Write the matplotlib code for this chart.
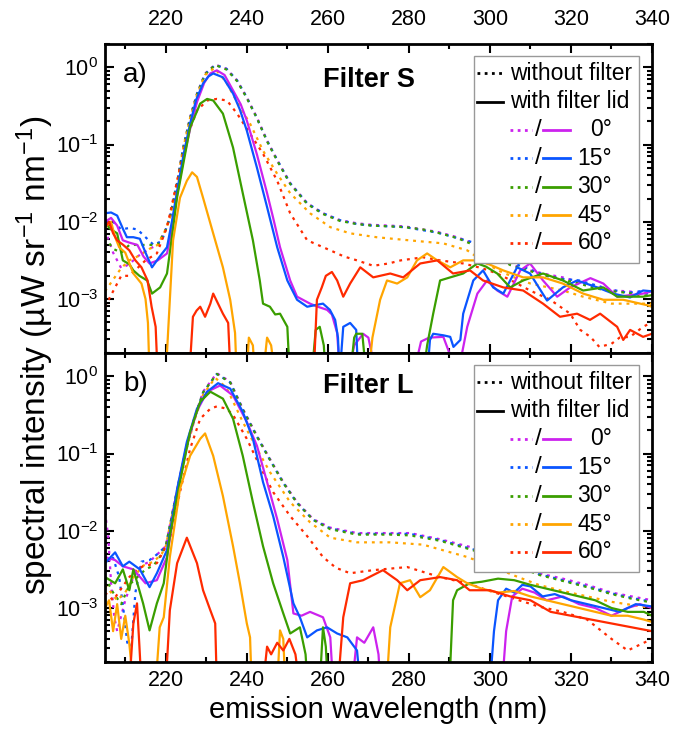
import matplotlib
matplotlib.use('Agg')
import matplotlib.pyplot as plt
import numpy as np
from matplotlib.lines import Line2D
from matplotlib.patches import Rectangle
from matplotlib.ticker import LogLocator, MultipleLocator, NullFormatter

plt.rcParams['font.family'] = ['Liberation Sans', 'DejaVu Sans']
plt.rcParams['mathtext.fontset'] = 'custom'
plt.rcParams['mathtext.rm'] = 'Liberation Sans'
plt.rcParams['mathtext.it'] = 'Liberation Sans:italic'
plt.rcParams['mathtext.bf'] = 'Liberation Sans:bold'

angles = ['0°', '15°', '30°', '45°', '60°']
colors = ['#CC22EE', '#0A55FF', '#3A9E00', '#FFA500', '#FF2A00']

# ---------------- Panel a (Filter S): log10 of spectral intensity ----------------
# without filter (dotted)
a_dot_wl_0 = [205, 207, 209, 211, 213, 216, 218, 220, 221, 222.8, 224.3, 226, 227.7, 229.7, 232.2, 235, 237.6, 240, 242.5, 245, 247.5, 250.7, 254.9, 258.8, 263, 267.2, 271, 275.4, 279, 283.5, 287, 291.9, 296, 300, 305, 310, 314, 318, 322, 326, 330, 334, 337, 340]
a_dot_lg_0 = [-2.1, -2.4, -2.6, -2.55, -2.45, -2.35, -2.3, -2.1, -1.95, -1.5, -1.04, -0.65, -0.34, -0.08, 0.035, -0.02, -0.17, -0.39, -0.65, -0.95, -1.2, -1.5, -1.76, -1.89, -1.98, -2.02, -2.04, -2.05, -2.06, -2.1, -2.13, -2.2, -2.28, -2.38, -2.55, -2.63, -2.68, -2.72, -2.78, -2.84, -2.89, -2.9, -2.92, -2.93]
a_dot_wl_15 = [205, 207, 209, 211, 213, 215, 217, 219, 220, 221, 222.8, 224.3, 226, 227.7, 229.7, 232.2, 235, 237.6, 240, 242.5, 245, 247.5, 250.7, 254.9, 258.8, 263, 267.2, 271, 275.4, 279, 283.5, 287, 291.9, 296, 300, 305, 310, 314, 318, 322, 326, 330, 334, 337, 340]
a_dot_lg_15 = [-2.0, -2.0, -2.1, -2.08, -2.1, -2.2, -2.3, -2.25, -2.1, -1.95, -1.5, -1.04, -0.66, -0.35, -0.09, 0.03, -0.02, -0.17, -0.39, -0.66, -0.95, -1.2, -1.5, -1.76, -1.89, -1.98, -2.03, -2.05, -2.06, -2.07, -2.11, -2.14, -2.21, -2.27, -2.36, -2.52, -2.62, -2.7, -2.74, -2.76, -2.82, -2.88, -2.92, -2.9, -2.95]
a_dot_wl_30 = [205, 207, 209, 211, 213, 216, 218, 220, 221, 222.8, 224.3, 226, 227.7, 229.7, 232.2, 235, 237.6, 240, 242.5, 245, 247.5, 250.7, 254.9, 258.8, 263, 267.2, 271, 275.4, 279, 283.5, 287, 291.9, 296, 300, 305, 310, 314, 318, 322, 326, 330, 334, 337, 340]
a_dot_lg_30 = [-2.2, -2.35, -2.4, -2.3, -2.3, -2.3, -2.3, -2.1, -1.95, -1.5, -1.05, -0.66, -0.35, -0.09, 0.03, -0.03, -0.18, -0.4, -0.66, -0.96, -1.21, -1.51, -1.77, -1.9, -1.99, -2.03, -2.05, -2.06, -2.07, -2.1, -2.14, -2.21, -2.3, -2.4, -2.56, -2.64, -2.7, -2.75, -2.8, -2.86, -2.9, -2.92, -2.95, -2.96]
a_dot_wl_45 = [205, 207, 209, 211, 213, 216, 218, 220, 221, 222.8, 224.3, 226, 227.7, 229.7, 232, 235, 237.6, 240.8, 244, 247.5, 250.7, 255.6, 260.6, 265.5, 272, 280, 288.5, 294.4, 298, 302, 306, 310, 318, 323, 330, 340]
a_dot_lg_45 = [-2.9, -2.75, -2.6, -2.5, -2.45, -2.35, -2.3, -2.1, -1.95, -1.5, -1.05, -0.66, -0.36, -0.1, -0.01, -0.2, -0.45, -0.73, -1.08, -1.38, -1.63, -1.89, -2.07, -2.15, -2.2, -2.24, -2.28, -2.37, -2.5, -2.63, -2.72, -2.8, -2.89, -2.97, -3.06, -3.06]
a_dot_wl_60 = [205, 207, 209, 211, 213, 215, 217.8, 220.3, 222.8, 225.2, 227.7, 230.2, 232.6, 235.1, 237.6, 240.8, 244, 247.5, 250.7, 254.9, 260.6, 264, 267.2, 271.2, 275, 278, 283.5, 287.7, 293.4, 298, 301.8, 306, 309.9, 314.9, 319.8, 322.3, 324.8, 327, 330, 332, 334.6, 337.8, 340]
a_dot_lg_60 = [-3.1, -2.9, -2.7, -2.7, -2.6, -2.5, -2.41, -2.07, -1.47, -0.91, -0.56, -0.43, -0.41, -0.43, -0.6, -0.86, -1.12, -1.47, -1.89, -2.24, -2.37, -2.45, -2.5, -2.57, -2.54, -2.5, -2.46, -2.5, -2.54, -2.6, -2.67, -2.78, -2.89, -3.01, -3.19, -3.4, -3.49, -3.62, -3.58, -3.5, -3.49, -3.36, -3.3]

# with filter lid (solid)
a_sol_wl_0 = [205, 206.5, 208, 209.4, 211, 213, 214.5, 216, 218, 220.3, 221.5, 222.8, 224.5, 226, 227.7, 229.5, 231, 232.6, 234.5, 236.6, 238.5, 240, 242.5, 245, 246.5, 248.2, 250.7, 252.4, 255.6, 257.5, 259.8, 261, 262.3, 263, 265, 266.5, 268.7, 270, 272, 281, 283, 285, 288.5, 290, 292, 293.5, 294.4, 296.9, 299.3, 301.8, 304.3, 307.5, 309.9, 313.1, 316.6, 319.8, 324.8, 328, 331.4, 334.6, 337.8, 340]
a_sol_lg_0 = [-2.0, -1.95, -2.05, -2.24, -2.27, -2.3, -2.45, -2.54, -2.5, -2.41, -2.1, -1.65, -1.15, -0.8, -0.45, -0.2, -0.08, -0.04, -0.1, -0.3, -0.48, -0.69, -1.13, -1.63, -1.95, -2.33, -2.76, -2.97, -3.06, -3.1, -3.14, -3.2, -3.44, -4, -4, -3.6, -3.45, -3.5, -4, -4, -3.55, -3.5, -3.49, -3.7, -4, -3.6, -3.36, -2.93, -2.76, -2.89, -2.97, -2.63, -2.54, -2.76, -2.97, -2.85, -2.73, -2.8, -2.97, -2.95, -2.93, -2.9]
a_sol_wl_15 = [205, 206.5, 208, 209.5, 210.4, 212, 213.6, 215, 216.6, 218.5, 220.3, 221.5, 222.8, 224.5, 226, 227.5, 229.2, 230.5, 231.7, 234.1, 236.6, 238.3, 240, 242.5, 245, 247.5, 250, 252.4, 254.9, 256.8, 258.8, 260.5, 261.8, 262.5, 262.9, 263.8, 265.5, 267, 267.5, 284.5, 285.2, 286, 288.5, 290.2, 291, 292.7, 293.4, 295.9, 298.3, 300.8, 303.3, 306.7, 309.9, 314.1, 318, 321.5, 326.5, 330.4, 334.6, 337.8, 340]
a_sol_lg_15 = [-1.89, -1.88, -1.92, -2.1, -2.2, -2.2, -2.22, -2.4, -2.59, -2.45, -2.33, -2.0, -1.6, -1.1, -0.73, -0.42, -0.21, -0.12, -0.08, -0.13, -0.34, -0.55, -0.82, -1.3, -1.81, -2.33, -2.76, -3.01, -3.1, -3.08, -3.06, -3.14, -3.27, -3.5, -4, -3.36, -3.31, -3.4, -4, -4, -3.53, -3.45, -3.47, -3.49, -3.62, -3.53, -3.19, -2.76, -2.63, -2.85, -2.93, -2.59, -2.67, -3.02, -2.85, -2.76, -2.85, -2.93, -2.98, -2.89, -2.9]
a_sol_wl_30 = [205, 206.5, 208, 209.4, 211, 212, 213.5, 215.4, 216.6, 218.6, 220.3, 221.5, 222.8, 224.5, 226, 228.5, 230.2, 231.7, 234.1, 236.6, 239, 241.5, 243.2, 244, 245.7, 247, 248.2, 250, 250.6, 256, 257, 258, 259, 259.5, 265.5, 266.5, 267, 268.5, 269.5, 283.5, 284.5, 286, 287.7, 290.2, 293.4, 296.9, 299, 301.8, 305, 308.2, 313.1, 318, 323, 328, 331.4, 337.8, 340]
a_sol_lg_30 = [-2.02, -2.1, -2.15, -2.5, -2.55, -2.63, -2.7, -2.76, -2.93, -2.85, -2.67, -2.2, -1.68, -1.2, -0.78, -0.47, -0.41, -0.43, -0.6, -1.04, -1.63, -2.24, -2.76, -3.06, -3.1, -3.2, -3.19, -3.36, -4, -4, -3.4, -3.36, -3.6, -4, -4, -3.5, -3.45, -3.45, -4, -4, -3.6, -3.19, -2.76, -2.72, -2.67, -2.54, -2.58, -2.67, -2.85, -2.76, -2.67, -2.76, -2.89, -2.85, -2.97, -2.97, -2.95]
a_sol_wl_45 = [205, 206.5, 207.5, 208.5, 210, 212, 214, 215, 215.6, 216, 220, 220.6, 221.8, 223.5, 225.2, 226.5, 227.7, 229.2, 231.7, 234.1, 235.9, 237.1, 237.5, 240, 240.5, 241.5, 242, 244, 245, 246, 247, 270, 271, 272.9, 274.6, 277.1, 279.6, 282, 284.5, 287, 290.2, 293.4, 296, 299.3, 303.3, 308.2, 313.1, 318, 323, 328, 332.9, 338.8, 340]
a_sol_lg_45 = [-2.07, -2.0, -2.2, -2.33, -2.4, -2.67, -2.8, -3.0, -3.31, -4, -4, -3.4, -2.24, -1.69, -1.47, -1.36, -1.42, -1.69, -2.15, -2.59, -3.01, -3.44, -4, -4, -3.5, -3.6, -4, -4, -3.5, -3.6, -4, -4, -3.5, -3.01, -2.76, -2.8, -2.72, -2.5, -2.41, -2.5, -2.59, -2.5, -2.5, -2.54, -2.63, -2.72, -2.72, -2.8, -2.93, -3.01, -3.01, -3.08, -3.1]
a_sol_wl_60 = [205, 206, 207, 208, 209.5, 211, 212.5, 214, 215.5, 216.5, 217.5, 218, 225.8, 226.7, 227.6, 228.5, 229.7, 231, 231.7, 232.9, 234.1, 235.4, 236, 256.5, 257.3, 258.5, 259.5, 261, 262.3, 263.8, 265.5, 268, 271.2, 275.4, 278.6, 282.8, 287, 290.9, 295.1, 298.3, 303.3, 308.2, 313.1, 317.3, 321.5, 324.7, 327.2, 331.4, 332.9, 334.6, 337.8, 340]
a_sol_lg_60 = [-2.07, -2.0, -2.15, -2.24, -2.3, -2.37, -2.5, -2.59, -2.76, -3.1, -3.36, -4, -4, -3.23, -3.15, -3.1, -3.23, -3.06, -2.93, -3.06, -3.19, -3.31, -4, -4, -3.01, -2.85, -2.7, -2.65, -2.76, -2.97, -2.8, -2.59, -2.72, -2.67, -2.72, -2.54, -2.5, -2.67, -2.63, -2.76, -2.85, -2.89, -3.06, -3.23, -3.19, -3.27, -3.19, -3.36, -3.53, -3.4, -3.49, -3.45]

# ---------------- Panel b (Filter L) ----------------
b_dot_wl_0 = [205, 205.8, 206.5, 207.3, 208, 209, 210, 212, 214, 216, 218, 220, 221.8, 223.5, 225.2, 227, 229.2, 232.6, 235.9, 239, 242.5, 245.7, 249, 252.4, 256.4, 260.6, 267.2, 275.4, 280.3, 287.7, 294.4, 300, 306, 312, 318, 324, 330, 335, 340]
b_dot_lg_0 = [-1.76, -2.07, -2.68, -3.12, -3.3, -3.1, -2.9, -2.6, -2.45, -2.4, -2.3, -2.2, -1.72, -1.29, -0.9, -0.55, -0.2, 0.04, -0.07, -0.42, -0.77, -1.07, -1.37, -1.63, -1.85, -1.96, -2.03, -2.03, -2.03, -2.11, -2.2, -2.28, -2.4, -2.55, -2.62, -2.7, -2.8, -2.85, -2.9]
b_dot_wl_15 = [205, 207, 208.5, 209.5, 210.5, 211.5, 212.5, 214, 216, 218, 220, 221.8, 223.5, 225.2, 227, 229.2, 232.6, 235.9, 239, 242.5, 245.7, 249, 252.4, 256.4, 260.6, 267.2, 275.4, 280.3, 287.7, 294.4, 300, 306, 312, 318, 324, 330, 335, 340]
b_dot_lg_15 = [-2.4, -2.35, -2.6, -3.0, -3.45, -3.5, -2.8, -2.4, -2.38, -2.3, -2.2, -1.73, -1.3, -0.9, -0.56, -0.21, 0.03, -0.08, -0.43, -0.78, -1.08, -1.38, -1.64, -1.86, -1.97, -2.04, -2.04, -2.04, -2.12, -2.22, -2.3, -2.42, -2.56, -2.64, -2.72, -2.81, -2.87, -2.92]
b_dot_wl_30 = [205, 207, 209, 211, 213, 215, 217, 219, 220, 221.8, 223.5, 225.2, 227, 229.2, 232.6, 235.9, 239, 242.5, 245.7, 249, 252.4, 256.4, 260.6, 267.2, 275.4, 280.3, 287.7, 294.4, 300, 306, 312, 318, 324, 330, 335, 340]
b_dot_lg_30 = [-2.6, -2.8, -2.95, -2.7, -2.6, -2.5, -2.45, -2.3, -2.2, -1.73, -1.3, -0.91, -0.56, -0.21, 0.03, -0.08, -0.43, -0.78, -1.08, -1.38, -1.64, -1.86, -1.98, -2.05, -2.05, -2.06, -2.13, -2.23, -2.32, -2.44, -2.57, -2.65, -2.73, -2.82, -2.88, -2.93]
b_dot_wl_45 = [205, 206.5, 208, 210, 212, 214.5, 217, 219, 220, 221.8, 223.5, 225.2, 227, 229.2, 232.2, 235, 239, 242.5, 245.7, 250.7, 255.6, 260.6, 267.2, 275.4, 283.5, 294.4, 300, 306, 312, 318, 324, 330, 335, 340]
b_dot_lg_45 = [-2.7, -2.8, -2.9, -2.8, -2.6, -2.45, -2.4, -2.3, -2.2, -1.74, -1.31, -0.93, -0.58, -0.24, -0.02, -0.15, -0.59, -0.94, -1.24, -1.63, -1.89, -2.09, -2.15, -2.15, -2.18, -2.34, -2.45, -2.58, -2.7, -2.78, -2.85, -2.92, -2.96, -3.0]
b_dot_wl_60 = [205, 207, 209, 211, 213, 214.4, 217.8, 221, 223.5, 226, 228.5, 231, 232.6, 235, 236.6, 240, 243.2, 246.5, 250.7, 254.9, 258.8, 262, 265.5, 271.2, 279.6, 287.7, 294.4, 300, 306, 312, 318, 324, 330, 334, 338, 340]
b_dot_lg_60 = [-2.8, -2.9, -2.75, -2.6, -2.5, -2.46, -2.42, -2.11, -1.5, -0.94, -0.55, -0.42, -0.39, -0.42, -0.5, -0.81, -1.16, -1.5, -1.81, -2.07, -2.34, -2.48, -2.55, -2.51, -2.47, -2.6, -2.68, -2.78, -2.88, -2.98, -3.05, -3.15, -3.4, -3.55, -3.45, -3.4]

b_sol_wl_0 = [205, 207.5, 209.4, 212, 215, 217.8, 220.3, 222.8, 225.2, 227.7, 230.2, 233.4, 236.6, 240, 242.5, 245, 247.5, 250, 251.5, 253.5, 255.6, 258.8, 260.6, 261.3, 266, 267.2, 269, 271.2, 272.5, 273, 303, 304, 305.5, 308, 311, 314, 318, 322, 326, 330, 334, 337, 340]
b_sol_lg_0 = [-2.34, -2.38, -2.46, -2.5, -2.68, -2.64, -2.34, -1.5, -0.88, -0.45, -0.2, -0.12, -0.25, -0.59, -0.9, -1.37, -1.85, -2.38, -3.07, -3.1, -3.05, -3.12, -3.38, -4, -4, -3.38, -3.45, -3.25, -3.6, -4, -4, -3.3, -2.85, -2.75, -2.8, -2.9, -2.85, -2.95, -3.0, -3.1, -3.0, -2.95, -3.0]
b_sol_wl_15 = [205, 207.5, 209.4, 211, 213.6, 216, 217.8, 220.3, 222.8, 225.2, 227.7, 230.2, 232.9, 235.9, 239, 241.5, 244, 246.5, 249, 251.5, 253.1, 254.9, 257.3, 259.8, 262.3, 264.8, 267.2, 268, 300, 301, 302, 304, 306, 308, 310, 313, 316, 320, 324, 328, 332, 336, 340]
b_sol_lg_15 = [-2.42, -2.28, -2.46, -2.4, -2.5, -2.73, -2.55, -2.25, -1.46, -0.85, -0.42, -0.2, -0.09, -0.16, -0.46, -0.81, -1.37, -1.81, -2.34, -2.94, -3.12, -3.38, -3.29, -3.25, -3.33, -3.38, -3.55, -4, -4, -3.3, -2.9, -2.75, -2.8, -2.7, -2.72, -2.85, -2.82, -2.9, -2.95, -3.0, -3.05, -2.95, -2.98]
b_sol_wl_30 = [205, 207.5, 209.4, 211, 212, 214.4, 216, 217.8, 219.5, 221, 223.5, 226, 228.5, 231, 234.1, 236.6, 239, 241.5, 244, 246.5, 249, 250.7, 253.1, 254.5, 255, 258, 258.8, 259.5, 260, 290, 290.9, 291.9, 295, 298, 302, 306, 310, 314, 318, 322, 326, 330, 334, 338, 340]
b_sol_lg_30 = [-2.6, -2.68, -2.5, -2.77, -2.5, -2.94, -3.29, -2.94, -2.68, -2.07, -1.37, -0.72, -0.33, -0.2, -0.29, -0.55, -1.03, -1.63, -2.2, -2.68, -3.07, -3.33, -3.25, -3.6, -4, -4, -3.25, -3.5, -4, -4, -2.9, -2.77, -2.68, -2.66, -2.62, -2.64, -2.7, -2.75, -2.8, -2.85, -2.9, -3.0, -3.05, -3.05, -3.1]
b_sol_wl_45 = [205, 206, 207, 208, 209, 210, 211, 212, 217.5, 218.5, 219.5, 221, 223.5, 226, 228.5, 229.7, 231.7, 234.1, 236.6, 238.3, 240, 240.8, 241.2, 247.5, 248.2, 249, 249.5, 274.5, 275.4, 277.8, 280.3, 282.8, 285.2, 288.5, 291.9, 294.4, 298, 302, 306, 310, 314, 318, 322, 326, 330, 334, 338, 340]
b_sol_lg_45 = [-3.0, -2.9, -3.3, -2.95, -3.4, -3.1, -3.46, -4, -4, -3.25, -3.12, -2.34, -1.46, -1.03, -0.81, -0.74, -1.03, -1.55, -2.2, -2.68, -3.2, -3.38, -4, -4, -3.29, -3.4, -4, -4, -3.25, -2.68, -2.64, -2.86, -2.77, -2.47, -2.6, -2.68, -2.75, -2.8, -2.78, -2.85, -2.9, -2.95, -3.0, -3.05, -3.1, -3.1, -3.15, -3.18]
b_sol_wl_60 = [205, 211, 212, 212.9, 213.5, 214, 220, 221, 222.8, 225.2, 227.7, 229.2, 231, 232.2, 232.6, 244, 245, 246, 247.5, 249, 250.5, 252, 253, 262.5, 263.8, 265.5, 268.7, 273.6, 277.1, 279.6, 282.8, 287.7, 291.9, 295, 300, 305, 310, 315, 320, 325, 330, 335, 340]
b_sol_lg_60 = [-4, -4, -3.2, -2.94, -3.5, -4, -4, -3.03, -2.42, -2.09, -2.42, -2.77, -3.03, -3.2, -4, -4, -3.5, -3.6, -3.45, -3.55, -3.4, -3.6, -4, -4, -3.12, -2.68, -2.64, -2.51, -2.64, -2.77, -2.64, -2.6, -2.64, -2.77, -2.77, -2.85, -2.9, -3.05, -3.1, -3.15, -3.2, -3.25, -3.3]

panel_a_dot = [(a_dot_wl_0, a_dot_lg_0), (a_dot_wl_15, a_dot_lg_15), (a_dot_wl_30, a_dot_lg_30), (a_dot_wl_45, a_dot_lg_45), (a_dot_wl_60, a_dot_lg_60)]
panel_a_sol = [(a_sol_wl_0, a_sol_lg_0), (a_sol_wl_15, a_sol_lg_15), (a_sol_wl_30, a_sol_lg_30), (a_sol_wl_45, a_sol_lg_45), (a_sol_wl_60, a_sol_lg_60)]
panel_b_dot = [(b_dot_wl_0, b_dot_lg_0), (b_dot_wl_15, b_dot_lg_15), (b_dot_wl_30, b_dot_lg_30), (b_dot_wl_45, b_dot_lg_45), (b_dot_wl_60, b_dot_lg_60)]
panel_b_sol = [(b_sol_wl_0, b_sol_lg_0), (b_sol_wl_15, b_sol_lg_15), (b_sol_wl_30, b_sol_lg_30), (b_sol_wl_45, b_sol_lg_45), (b_sol_wl_60, b_sol_lg_60)]

panel_letters = ['a)', 'b)']
panel_titles = ['Filter S', 'Filter L']

W, H = 686, 735
fig = plt.figure(figsize=(W / 100, H / 100), dpi=100)
L, R, T, M, B = 105, 652, 44, 353, 662
ax_a = fig.add_axes([L / W, 1 - M / H, (R - L) / W, (M - T) / H])
ax_b = fig.add_axes([L / W, 1 - B / H, (R - L) / W, (B - M) / H])

DOT = (0, (1.3, 2.2))
LW = 1.6


def draw_legend(ax):
    bx0, bx1, by0, by1 = 0.675, 0.976, 0.291, 0.961
    ax.add_patch(Rectangle((bx0, by0), bx1 - bx0, by1 - by0, transform=ax.transAxes,
                           facecolor='white', edgecolor='#999999', linewidth=1.0, zorder=10))
    rows = [0.905, 0.813, 0.722, 0.631, 0.538, 0.446, 0.356]
    fs = 16.5
    ax.add_line(Line2D([0.680, 0.728], [rows[0]] * 2, transform=ax.transAxes, color='black',
                       lw=2, linestyle=(0, (1.0, 1.6)), zorder=11))
    ax.text(0.740, rows[0], 'without filter', transform=ax.transAxes, fontsize=fs, va='center', ha='left', zorder=11)
    ax.add_line(Line2D([0.680, 0.728], [rows[1]] * 2, transform=ax.transAxes, color='black',
                       lw=2, zorder=11))
    ax.text(0.740, rows[1], 'with filter lid', transform=ax.transAxes, fontsize=fs, va='center', ha='left', zorder=11)
    for k, (lab, c) in enumerate(zip(angles, colors)):
        y = rows[k + 2]
        ax.add_line(Line2D([0.740, 0.781], [y, y], transform=ax.transAxes, color=c,
                           lw=2, linestyle=(0, (1.0, 1.6)), zorder=11))
        ax.text(0.793, y, '/', transform=ax.transAxes, fontsize=fs + 1, va='center', ha='center', zorder=11)
        ax.add_line(Line2D([0.801, 0.850], [y, y], transform=ax.transAxes, color=c, lw=2, zorder=11))
        ax.text(0.927, y, lab, transform=ax.transAxes, fontsize=fs, va='center', ha='right', zorder=11)


for idx, (ax, dots, sols) in enumerate([(ax_a, panel_a_dot, panel_a_sol), (ax_b, panel_b_dot, panel_b_sol)]):
    for (wl, lg), c in zip(dots, colors):
        ax.plot(wl, np.power(10.0, lg), color=c, lw=LW, linestyle=DOT)
    for (wl, lg), c in zip(sols, colors):
        ax.plot(wl, np.power(10.0, lg), color=c, lw=LW)
    ax.set_yscale('log')
    ax.set_xlim(205, 340)
    ax.set_ylim(2e-4, 2)
    ax.xaxis.set_major_locator(MultipleLocator(20))
    ax.xaxis.set_minor_locator(MultipleLocator(10))
    ax.yaxis.set_major_locator(LogLocator(base=10, numticks=10))
    ax.yaxis.set_minor_locator(LogLocator(base=10, subs=np.arange(2, 10), numticks=10))
    ax.yaxis.set_minor_formatter(NullFormatter())
    ax.tick_params(which='both', direction='in', top=True, bottom=True, left=True, right=True,
                   width=1.5, labelsize=15.5)
    ax.tick_params(which='major', length=6.5)
    ax.tick_params(which='minor', length=3.5)
    for sp in ax.spines.values():
        sp.set_linewidth(2.0)
    ax.text(0.033, 0.877 if idx == 0 else 0.878, panel_letters[idx], transform=ax.transAxes,
            fontsize=20, va='baseline', ha='left')
    ax.text(0.399, 0.862 if idx == 0 else 0.871, panel_titles[idx], transform=ax.transAxes,
            fontsize=19.5, fontweight='bold', va='baseline', ha='left')
    draw_legend(ax)

ax_a.tick_params(axis='x', labeltop=True, labelbottom=False, pad=10)
ax_b.tick_params(axis='x', labeltop=False, labelbottom=True, pad=6)
ax_a.tick_params(axis='y', pad=5)
ax_b.tick_params(axis='y', pad=5)
ax_b.set_xlabel('emission wavelength (nm)', fontsize=21, labelpad=3)
fig.text(35 / W, 1 - 355 / H, 'spectral intensity (µW sr$^{-1}$ nm$^{-1}$)', rotation=90,
         fontsize=24, va='center', ha='center')

fig.savefig('out.png', dpi=100)
